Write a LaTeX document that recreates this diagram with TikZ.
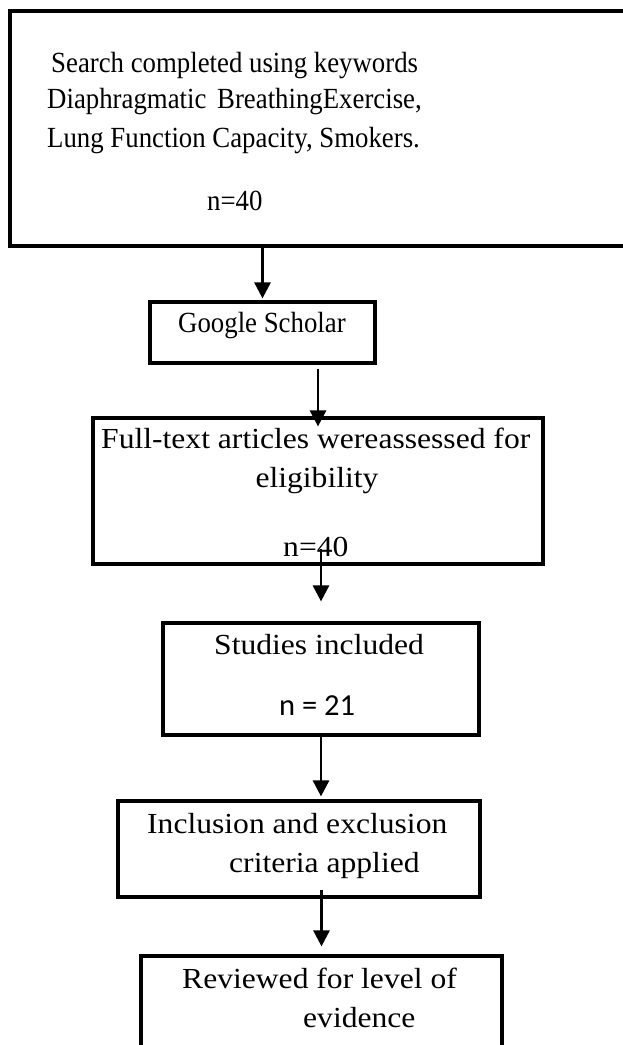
\documentclass[tikz,border=0pt]{standalone}
\usepackage{fontspec}
\setmainfont{Liberation Serif}
\newfontfamily\calfont{Carlito}
\usetikzlibrary{arrows.meta}
\newcommand{\smtxt}[1]{\scalebox{1}[1.09]{\fontsize{26.8}{32}\selectfont #1}}
\newcommand{\bgtxt}[1]{\scalebox{1}[0.92]{\fontsize{31.6}{36}\selectfont #1}}
\begin{document}
\begin{tikzpicture}[x=1pt,y=-1pt,
  box/.style={draw, line width=3.2pt, inner sep=0pt, minimum width=#1},
  txt/.style={anchor=base west, inner sep=0pt},
  ctxt/.style={anchor=base, inner sep=0pt},
  arr/.style={line width=2.7pt, -{Triangle[width=16pt,length=16pt]}}]
\clip (0,0) rectangle (623,1045);
\fill[white] (0,0) rectangle (623,1045);
% boxes
\node[box=630pt, minimum height=235pt] (b1) at (325,128.5) {};
\node[box=225pt, minimum height=61pt] (b2) at (262.5,332.5) {};
\node[box=450pt, minimum height=146pt] (b3) at (318,491) {};
\node[box=316pt, minimum height=112pt] (b4) at (321,679) {};
\node[box=362pt, minimum height=96pt] (b5) at (299,849) {};
\node[box=361pt, minimum height=104pt] (b6) at (321.5,1008) {};
% texts
\node[txt] (t1a) at (51,72) {\smtxt{Search completed using keywords}};
\node[txt] (t1b) at (47,108) {\smtxt{Diaphragmatic\hskip4pt\ BreathingExercise,}};
\node[txt] (t1c) at (47,147) {\smtxt{Lung Function Capacity, Smokers.}};
\node[txt] (t1d) at (207,210) {\smtxt{n=40}};
\node[txt] (t2) at (178,332) {\smtxt{Google Scholar}};
\node[txt] (t3a) at (101,448) {\bgtxt{Full-text articles wereassessed for}};
\node[ctxt] (t3b) at (317,487) {\bgtxt{eligibility}};
\node[txt] (t3c) at (283,556) {\bgtxt{n=40}};
\node[txt] (t4a) at (214,654) {\bgtxt{Studies included}};
\node[anchor=base west, inner sep=0pt, font=\calfont\fontsize{30.5}{36}\selectfont] (t4b) at (279,715) {n = 21};
\node[txt] (t5a) at (147,833) {\bgtxt{Inclusion and exclusion}};
\node[txt] (t5b) at (229,872) {\bgtxt{criteria applied}};
\node[txt] (t6a) at (182,988) {\bgtxt{Reviewed for level of}};
\node[txt] (t6b) at (303,1027) {\bgtxt{evidence}};
% arrows
\draw[arr] (b2.north |- b1.south) -- ([yshift=2pt]b2.north);
\draw[arr] ([yshift=-4pt]b3.north |- b2.south) -- ([yshift=-10pt]b3.north);
\draw[arr] ([yshift=17pt]b4.north |- b3.south) -- ([yshift=20pt]b4.north);
\draw[arr] (b4.south) -- ([yshift=3pt]b5.north -| b4.south);
\draw[arr] ([yshift=9pt]b5.south -| b6.north) -- ([yshift=8pt]b6.north);
\end{tikzpicture}
\end{document}
